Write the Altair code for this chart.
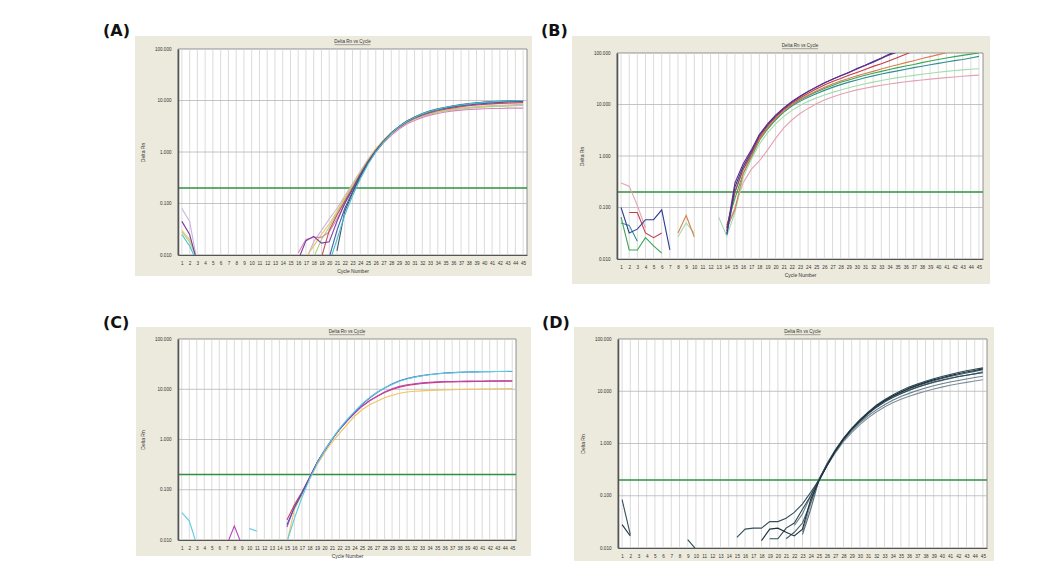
import altair as alt
import pandas as pd

N = None
CYCLES = list(range(1, 46))
Y_TICKS = [0.01, 0.1, 1, 10, 100]
H_GRID = [0.1, 1, 10]
THRESHOLD = 0.2

# ---------------- Panel A ----------------
A_lavender = [0.08, 0.045, 0.007] + [N]*13 + [0.008, 0.018, 0.03, 0.05, 0.08, 0.14, 0.24, 0.42, 0.72, 1.15, 1.7, 2.35, 3.0, 3.7, 4.4, 5.0, 5.5, 6.0, 6.4, 6.8, 7.1, 7.4, 7.6, 7.8, 8.0, 8.1, 8.2, 8.3, 8.4]
A_purple = [0.045, 0.025, 0.007] + [N]*12 + [0.008, 0.019, 0.023, 0.017, 0.018, 0.045, 0.10, 0.19, 0.36, 0.64, 1.05, 1.6, 2.3, 3.1, 3.9, 4.7, 5.4, 6.0, 6.6, 7.1, 7.5, 7.9, 8.2, 8.5, 8.8, 9.0, 9.2, 9.4, 9.5, 9.6]
A_pink = [N]*15 + [0.011, 0.02, 0.022, 0.022, 0.028, 0.05, 0.1, 0.19, 0.35, 0.62, 1.0, 1.5, 2.1, 2.8, 3.5, 4.1, 4.7, 5.2, 5.6, 6.0, 6.3, 6.5, 6.7, 6.8, 6.9, 7.0, 7.0, 7.1, 7.1, 7.1]
A_yellow = [0.03, 0.02, 0.008] + [N]*13 + [0.009, 0.015, 0.025, 0.04, 0.07, 0.13, 0.23, 0.40, 0.70, 1.15, 1.7, 2.4, 3.1, 3.8, 4.5, 5.1, 5.6, 6.0, 6.4, 6.7, 7.0, 7.2, 7.4, 7.6, 7.7, 7.8, 7.9, 8.0, 8.1]
A_green = [0.028, 0.018, 0.008] + [N]*14 + [0.009, 0.02, 0.035, 0.065, 0.12, 0.22, 0.39, 0.68, 1.1, 1.65, 2.3, 3.0, 3.7, 4.4, 5.0, 5.5, 5.9, 6.3, 6.6, 6.9, 7.1, 7.3, 7.5, 7.6, 7.7, 7.8, 7.9, 8.0]
A_cyan = [0.025, 0.015, 0.007] + [N]*16 + [0.007, 0.02, 0.06, 0.14, 0.30, 0.58, 1.0, 1.55, 2.3, 3.1, 3.9, 4.7, 5.5, 6.2, 6.8, 7.3, 7.8, 8.2, 8.6, 8.9, 9.2, 9.4, 9.6, 9.8, 9.9, 10.0]
A_blue = [N]*19 + [0.009, 0.03, 0.08, 0.17, 0.34, 0.62, 1.02, 1.58, 2.3, 3.1, 3.9, 4.7, 5.4, 6.1, 6.7, 7.2, 7.7, 8.1, 8.5, 8.8, 9.1, 9.3, 9.5, 9.7, 9.8, 9.9]
A_red = [N]*18 + [0.009, 0.03, 0.06, 0.11, 0.2, 0.37, 0.66, 1.08, 1.62, 2.3, 3.0, 3.8, 4.5, 5.2, 5.8, 6.3, 6.8, 7.2, 7.6, 7.9, 8.2, 8.4, 8.6, 8.8, 8.9, 9.0, 9.1]
A_dark = [N]*20 + [0.012, 0.07, 0.16, 0.33, 0.61, 1.02, 1.6, 2.35, 3.15, 4.0, 4.8, 5.6, 6.3, 6.9, 7.4, 7.9, 8.3, 8.7, 9.0, 9.3, 9.5, 9.7, 9.8, 9.9, 10.0]

# ---------------- Panel B ----------------
B_purple = [N]*13 + [0.035, 0.3, 0.7, 1.3, 2.6, 4.2, 6.2, 8.6, 11.5, 14.5, 18, 22, 26.5, 31, 36, 42, 49, 57, 66, 78, 92, 105] + [N]*10
B_navy = [0.1, 0.032, 0.038, 0.058, 0.058, 0.09, 0.015] + [N]*6 + [0.03, 0.25, 0.62, 1.2, 2.5, 4.0, 6.0, 8.4, 11.2, 14.3, 17.8, 21.5, 26, 31, 36, 42, 50, 58, 68, 80, 96, 110] + [N]*10
B_red = [N, 0.08, 0.08, 0.032, 0.026, 0.032] + [N]*7 + [0.04, 0.2, 0.55, 1.1, 2.3, 3.8, 5.7, 8.0, 10.6, 13.4, 16.5, 20, 24, 28, 32, 37, 42, 48, 55, 62, 71, 82, 95, 110] + [N]*8
B_orange = [N]*7 + [0.032, 0.07, 0.027] + [N]*3 + [0.04, 0.09, 0.45, 1.0, 2.1, 3.5, 5.3, 7.5, 10, 12.6, 15.3, 18.3, 21.5, 25, 28.5, 32, 36, 40, 44, 49, 54, 59, 65, 71, 78, 85, 93, 101, 112] + [N]*3
B_green = [0.065, 0.015, 0.015, 0.026, 0.018, 0.013] + [N]*7 + [0.045, 0.15, 0.45, 0.95, 2.0, 3.3, 5.0, 7.2, 9.6, 12.2, 14.8, 17.5, 20.5, 23.5, 27, 30, 33.5, 37, 40.5, 44, 48, 52, 56, 60, 65, 70, 75, 80, 85, 90, 95, 100]
B_teal = [0.05, 0.045, 0.022] + [N]*10 + [0.03, 0.2, 0.55, 1.05, 2.1, 3.4, 5.1, 7.1, 9.3, 11.5, 13.8, 16.2, 18.8, 21.5, 24.3, 27.2, 30, 33, 36, 39, 42, 45, 48.5, 52, 55.5, 59, 63, 67, 71, 75, 80, 86]
B_lightgreen = [N]*7 + [0.027, 0.05, 0.032] + [N]*2 + [0.065, 0.028, 0.08, 0.38, 0.85, 1.7, 2.8, 4.2, 5.9, 7.7, 9.6, 11.5, 13.4, 15.3, 17.2, 19.2, 21.2, 23.2, 25.2, 27.2, 29.2, 31.2, 33.2, 35, 36.8, 38.6, 40.4, 42.2, 44, 45.6, 47, 48.2, 49.4]
B_pink = [0.30, 0.26, 0.11, 0.04] + [N]*9 + [0.04, 0.1, 0.3, 0.55, 0.8, 1.3, 2.2, 3.5, 5.0, 6.7, 8.4, 10.3, 12.2, 14, 15.8, 17.5, 19.2, 20.7, 22.2, 23.6, 25, 26.3, 27.6, 28.8, 30, 31.1, 32.2, 33.3, 34.3, 35.3, 36.3, 37.2]

# ---------------- Panel C ----------------
C_cyan = [0.035, 0.024, 0.008] + [N]*6 + [0.017, 0.015] + [N]*3 + [0.009, 0.027, 0.07, 0.16, 0.33, 0.6, 1.02, 1.65, 2.5, 3.6, 5.1, 6.8, 8.7, 10.6, 12.5, 14.4, 16.0, 17.4, 18.5, 19.4, 20.2, 20.8, 21.3, 21.7, 22.0, 22.2, 22.4, 22.5, 22.6, 22.7, 22.8]
C_blue = [N]*14 + [0.02, 0.045, 0.085, 0.17, 0.34, 0.6, 1.0, 1.6, 2.4, 3.5, 5.0, 6.7, 8.6, 10.6, 12.7, 14.7, 16.3, 17.6, 18.7, 19.6, 20.4, 21.0, 21.4, 21.7, 22.0, 22.2, 22.3, 22.4, 22.5, 22.6, 22.6]
C_magenta = [N]*6 + [0.008, 0.019, 0.008] + [N]*5 + [0.018, 0.045, 0.085, 0.17, 0.34, 0.6, 1.0, 1.6, 2.35, 3.3, 4.6, 5.9, 7.3, 8.8, 10.2, 11.4, 12.3, 12.9, 13.4, 13.8, 14.0, 14.2, 14.3, 14.4, 14.5, 14.6, 14.6, 14.7, 14.7, 14.8, 14.8]
C_red = [N]*14 + [0.025, 0.05, 0.09, 0.175, 0.35, 0.6, 1.0, 1.58, 2.35, 3.35, 4.6, 5.9, 7.2, 8.6, 9.9, 11.0, 11.9, 12.5, 13.0, 13.4, 13.7, 13.9, 14.0, 14.1, 14.2, 14.3, 14.3, 14.4, 14.4, 14.5, 14.5]
C_yellow = [N]*14 + [0.009, 0.04, 0.08, 0.16, 0.31, 0.54, 0.88, 1.33, 1.97, 2.9, 3.9, 4.9, 5.8, 6.8, 7.6, 8.3, 8.8, 9.1, 9.3, 9.5, 9.6, 9.7, 9.8, 9.9, 9.95, 10.0, 10.1, 10.1, 10.2, 10.2, 10.3]

# ---------------- Panel D ----------------
D1 = [0.084, 0.018] + [N]*12 + [0.016, 0.023, 0.024, 0.024, 0.032, 0.032, 0.037, 0.048, 0.07, 0.116, 0.2, 0.38, 0.7, 1.18, 1.85, 2.65, 3.7, 4.9, 6.2, 7.6, 9.0, 10.5, 12.0, 13.5, 15.0, 16.4, 17.8, 19.1, 20.3, 21.5, 22.6]
D2 = [0.028, 0.017] + [N]*15 + [0.0138, 0.023, 0.024, 0.02, 0.017, 0.023, 0.086, 0.19, 0.38, 0.72, 1.22, 1.9, 2.75, 3.85, 5.2, 6.6, 8.1, 9.7, 11.4, 13.1, 14.8, 16.5, 18.2, 19.9, 21.6, 23.3, 25.0, 26.8]
D3 = [N]*8 + [0.0145, 0.0095] + [N]*8 + [0.015, 0.015, 0.024, 0.03, 0.055, 0.1, 0.2, 0.4, 0.74, 1.25, 1.95, 2.85, 4.0, 5.4, 6.9, 8.5, 10.2, 12.0, 13.8, 15.6, 17.4, 19.2, 21.0, 22.8, 24.6, 26.3, 28.0]
D4 = [N]*20 + [0.015, 0.02, 0.03, 0.075, 0.2, 0.39, 0.72, 1.2, 1.88, 2.72, 3.8, 5.1, 6.5, 8.0, 9.5, 11.1, 12.7, 14.3, 15.9, 17.5, 19.1, 20.7, 22.3, 24.0, 25.8]
D5 = [N]*22 + [0.018, 0.055, 0.2, 0.42, 0.76, 1.25, 1.92, 2.75, 3.8, 5.0, 6.3, 7.7, 9.1, 10.5, 11.9, 13.3, 14.7, 16.1, 17.5, 18.9, 20.3, 21.7, 23.5]
D6 = [N]*21 + [0.027, 0.045, 0.1, 0.21, 0.4, 0.7, 1.15, 1.75, 2.5, 3.4, 4.4, 5.5, 6.7, 7.9, 9.1, 10.3, 11.5, 12.7, 13.9, 15.0, 16.1, 17.2, 18.3, 19.3]
D7 = [N]*22 + [0.02, 0.07, 0.2, 0.38, 0.66, 1.08, 1.62, 2.3, 3.1, 4.0, 5.0, 6.0, 7.0, 8.0, 9.0, 10.0, 11.0, 12.0, 13.0, 13.9, 14.8, 15.7, 16.6]

PANELS = {
    "A": [("A_lavender", A_lavender, "#c8b4dc"), ("A_yellow", A_yellow, "#e9c45c"),
          ("A_green", A_green, "#a9d48c"), ("A_pink", A_pink, "#d886b8"),
          ("A_red", A_red, "#c85050"), ("A_purple", A_purple, "#7a3aa0"),
          ("A_blue", A_blue, "#3d5fb0"), ("A_dark", A_dark, "#46566a"),
          ("A_cyan", A_cyan, "#45c0cf")],
    "B": [("B_pink", B_pink, "#e3a3b3"), ("B_lightgreen", B_lightgreen, "#a2dcae"),
          ("B_teal", B_teal, "#2f8f92"), ("B_green", B_green, "#3aa653"),
          ("B_orange", B_orange, "#d8804c"), ("B_red", B_red, "#c23e4a"),
          ("B_navy", B_navy, "#2b3f95"), ("B_purple", B_purple, "#6a2a8a")],
    "C": [("C_yellow", C_yellow, "#f2c35e"), ("C_red", C_red, "#d83a5c"),
          ("C_magenta", C_magenta, "#b745b8"), ("C_blue", C_blue, "#3a5bb8"),
          ("C_cyan", C_cyan, "#5ccbe3")],
    "D": [("D7", D7, "#7d8f98"), ("D6", D6, "#6c808a"), ("D5", D5, "#566d78"),
          ("D4", D4, "#44606c"), ("D1", D1, "#34505c"), ("D3", D3, "#2b4a52"),
          ("D2", D2, "#1e2f3d")],
}

BEIGE = "#eceadc"
GREEN = "#2f8f3f"
FONT = "Liberation Sans"


def curve_frame(curves):
    rows = []
    for name, vals, col in curves:
        seg = 0
        prev = None
        for c, v in zip(CYCLES, vals):
            if v is None:
                if prev is not None:
                    seg += 1
                prev = None
                continue
            rows.append({"cycle": c, "rn": v, "key": f"{name}_{seg}", "col": col})
            prev = v
    return pd.DataFrame(rows)


def panel(letter, w, h, fl, fr, ft, fb, lx, ly, xtitle=True, lift=0):
    # lift: the plot area starts this many pixels above the cell origin
    top = -lift
    xs = alt.Scale(domain=[0.5, 45.5], nice=False, zero=False)
    ys = alt.Scale(type="log", domain=[0.01, 100], nice=False, range=[h, top])
    xaxis = alt.Axis(title="Cycle Number" if xtitle else None, values=CYCLES,
                     labelFontSize=4.6, labelColor="#333", labelFont=FONT,
                     titleFontSize=5, titleFont=FONT, titleFontWeight="normal",
                     titleColor="#333", grid=False, ticks=False, domainColor="#555",
                     domainWidth=1.2, labelPadding=5, titlePadding=4, zindex=1,
                     labelOverlap=False, labelFlush=False)
    yaxis = alt.Axis(title="Delta Rn", values=Y_TICKS, format=".3f",
                     labelFontSize=4.6, labelColor="#333", labelFont=FONT,
                     titleFontSize=5, titleFont=FONT, titleFontWeight="normal",
                     titleColor="#333", grid=False, ticks=False, domainColor="#555",
                     domainWidth=1.6, labelPadding=7, titlePadding=9, zindex=1,
                     labelOverlap=False)
    one = pd.DataFrame({"k": [0]})
    frame = alt.Chart(one).mark_rect(color=BEIGE).encode(
        x=alt.value(fl), x2=alt.value(w + fr), y=alt.value(top + ft), y2=alt.value(h + fb))
    plotbg = alt.Chart(one).mark_rect(fill="white", stroke="#7a7a7a", strokeWidth=0.8).encode(
        x=alt.value(0), x2=alt.value(w), y=alt.value(top), y2=alt.value(h))
    vgrid = alt.Chart(pd.DataFrame({"c": CYCLES})).mark_rule(
        color="#d2d2d2", strokeWidth=0.8).encode(
        x=alt.X("c:Q", scale=xs, axis=xaxis), y=alt.value(top), y2=alt.value(h))
    hgrid = alt.Chart(pd.DataFrame({"v": H_GRID})).mark_rule(
        color="#b5b5b5", strokeWidth=0.8).encode(y=alt.Y("v:Q", scale=ys, axis=yaxis))
    thr = alt.Chart(pd.DataFrame({"t": [THRESHOLD]})).mark_rule(
        color=GREEN, strokeWidth=1.5).encode(y=alt.Y("t:Q", scale=ys, axis=yaxis))
    lines = alt.Chart(curve_frame(PANELS[letter])).mark_line(
        clip=True, strokeWidth=1.1).encode(
        x=alt.X("cycle:Q", scale=xs, axis=xaxis),
        y=alt.Y("rn:Q", scale=ys, axis=yaxis),
        color=alt.Color("col:N", scale=None),
        detail="key:N")
    ttl = alt.Chart(one).mark_text(fontSize=4.6, font=FONT, color="#333",
                                   align="center", baseline="bottom").encode(
        x=alt.value(w / 2), y=alt.value(top - 5), text=alt.value("Delta Rn vs Cycle"))
    uline = alt.Chart(one).mark_rule(color="#555", strokeWidth=0.5).encode(
        x=alt.value(w / 2 - 18), x2=alt.value(w / 2 + 18), y=alt.value(top - 4.3))
    lab = alt.Chart(one).mark_text(fontSize=16, font="DejaVu Sans", fontWeight="bold",
                                   color="#111", align="left", baseline="top").encode(
        x=alt.value(lx), y=alt.value(top + ly), text=alt.value(f"({letter})"))
    return alt.layer(frame, plotbg, vgrid, hgrid, thr, lines, ttl, uline, lab).properties(
        width=w, height=h)


pA = panel("A", 349, 202, -43, 5, -13, 21, -75, -26, lift=4)
pB = panel("B", 366, 206, -45, 7, -17, 25, -76, -30)
pC = panel("C", 338, 201, -42, 15, -12, 16, -75, -24)
pD = panel("D", 369, 209, -44, 7, -12, 13, -76, -24, xtitle=False)

row1 = alt.hconcat(pA, pB, spacing=9)
row2 = alt.hconcat(pC, pD, spacing=11)
chart = alt.vconcat(row1, row2, spacing=31).properties(
    padding={"left": 95, "top": 15, "right": 5, "bottom": 5},
    background="white",
).configure_view(stroke=None)

chart.save("out.html", embed_options={"renderer": "svg", "actions": False})
